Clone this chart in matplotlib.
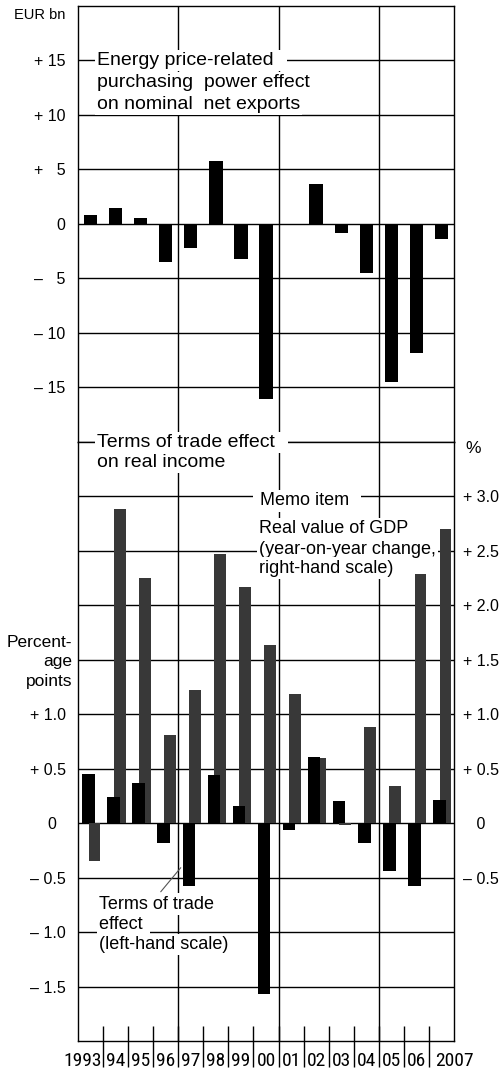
import numpy as np
import matplotlib.pyplot as plt
from matplotlib import transforms, font_manager

# data
years = ['1993', '94', '95', '96', '97', '98', '99', '00',
         '01', '02', '03', '04', '05', '06', '2007']
# EUR bn
energy_effect = [0.8, 1.5, 0.5, -3.5, -2.2, 5.8, -3.2, -16.1,
                 -0.15, 3.7, -0.8, -4.5, -14.5, -11.9, -1.4]
# percentage points (left-hand scale)
tot_effect = [0.45, 0.24, 0.37, -0.18, -0.58, 0.44, 0.16, -1.57,
              -0.06, 0.61, 0.20, -0.18, -0.44, -0.58, 0.21]
# % yoy (right-hand scale)
gdp_growth = [-0.35, 2.88, 2.25, 0.81, 1.22, 2.47, 2.17, 1.63,
              1.18, 0.60, -0.02, 0.88, 0.34, 2.29, 2.70]
group_starts = ['97', '01', '05']

top_ticks = [-15, -10, -5, 0, 5, 10, 15]
top_labels = ['\u2013 15', '\u2013 10', '\u2013   5', '0', '+   5', '+ 10', '+ 15']
bot_ticks = [-1.5, -1.0, -0.5, 0, 0.5, 1.0, 1.5, 2.0, 2.5, 3.0]
bot_labels_left = ['\u2013 1.5', '\u2013 1.0', '\u2013 0.5', '0  ', '+ 0.5', '+ 1.0', '', '', '', '']
right_ticks = [-0.5, 0, 0.5, 1.0, 1.5, 2.0, 2.5, 3.0]
right_labels = ['\u2013 0.5', '   0', '+ 0.5', '+ 1.0', '+ 1.5', '+ 2.0', '+ 2.5', '+ 3.0']

plt.rcParams['font.family'] = ['Liberation Sans', 'DejaVu Sans']
LW = 1.0
GRAY = '#383838'

# narrow font for the year labels, if one is installed
year_font = dict(family='Liberation Sans', fontsize=11.5)
for f in font_manager.fontManager.ttflist:
    if f.name in ('Liberation Sans Narrow', 'Arial Narrow', 'Roboto Condensed'):
        year_font = dict(family=f.name, fontsize=14)
        break
else:
    for f in font_manager.fontManager.ttflist:
        if f.name == 'DejaVu Sans' and f.stretch in ('condensed', 'semi-condensed'):
            year_font = dict(family='DejaVu Sans', fontstretch='condensed', fontsize=12.5)
            break

x = np.arange(len(years))
seps = [years.index(g) - 0.5 for g in group_starts]

fig = plt.figure(figsize=(5, 10.7), dpi=100)
ax_top = fig.add_axes([0.156, 0.5872, 0.752, 0.4072])
ax_bot = fig.add_axes([0.156, 0.0271, 0.752, 0.5601])

for ax in (ax_top, ax_bot):
    ax.set_xlim(-0.5, len(years) - 0.5)
    ax.set_axisbelow(True)
    ax.yaxis.grid(True, color='black', linewidth=LW)
    for s in seps:
        ax.axvline(s, color='black', linewidth=LW, zorder=0.5)
    for sp in ax.spines.values():
        sp.set_linewidth(LW)
    ax.tick_params(axis='y', length=0, labelsize=11.5, pad=9)


def boxed(ax, xx, yy, s, size=14):
    ax.text(xx, yy, s, fontsize=size, ha='left', va='center', zorder=4,
            clip_on=False,
            bbox=dict(facecolor='white', edgecolor='none', pad=1.5))


# ---- top panel: energy price-related purchasing power effect
ax_top.bar(x, energy_effect, width=0.53, color='black', zorder=2)
ax_top.set_ylim(-20, 20)
ax_top.set_yticks(top_ticks)
ax_top.set_yticklabels(top_labels)
ax_top.set_xticks([])
ax_top.text(-0.17, 0.979, 'EUR bn', transform=ax_top.transAxes, fontsize=10.5,
            ha='left', va='center')
boxed(ax_top, 0.26, 15.0, 'Energy price-related  ')
boxed(ax_top, 0.26, 12.95, 'purchasing  power effect')
boxed(ax_top, 0.26, 11.0, 'on nominal  net exports')

# ---- bottom panel: terms of trade effect and real GDP
w_tot, off_tot = 0.5, -0.08
w_gdp, off_gdp = 0.47, 0.16
ax_bot.bar(x + off_gdp, gdp_growth, width=w_gdp, color=GRAY, zorder=2)
ax_bot.bar(x + off_tot, tot_effect, width=w_tot, color='black', zorder=2.2)
ax_bot.set_ylim(-2.0, 3.5)
ax_bot.set_yticks(bot_ticks)
ax_bot.set_yticklabels(bot_labels_left)

ax_bot.set_xticks(x)
ax_bot.set_xticklabels(years, **year_font)
ax_bot.set_xticks(x[:-1] + 0.5, minor=True)
ax_bot.tick_params(axis='x', which='major', length=0, pad=8)
ax_bot.tick_params(axis='x', which='minor', direction='in', length=11, width=LW)
sec = ax_bot.secondary_xaxis('bottom')
sec.set_xticks(x[:-1] + 0.5)
sec.set_xticklabels([])
sec.tick_params(direction='out', length=19, width=LW)
sec.spines['bottom'].set_visible(False)

labs = ax_bot.get_xticklabels()
labs[0].set_horizontalalignment('right')
labs[0].set_transform(labs[0].get_transform() +
                      transforms.ScaledTranslation(11 / 100, 0, fig.dpi_scale_trans))
labs[-1].set_horizontalalignment('left')
labs[-1].set_transform(labs[-1].get_transform() +
                       transforms.ScaledTranslation(-6.5 / 100, 0, fig.dpi_scale_trans))

ax_r = ax_bot.twinx()
ax_r.set_ylim(ax_bot.get_ylim())
ax_r.set_yticks(right_ticks)
ax_r.set_yticklabels(right_labels)
ax_r.tick_params(axis='y', length=0, labelsize=11.5, pad=6.5)
for sp in ax_r.spines.values():
    sp.set_visible(False)

ax_bot.text(1.05, 0.989, '%', transform=ax_bot.transAxes, fontsize=12.5,
            ha='center', va='center')
ax_bot.text(-0.74, 1.48, 'Percent-\nage\npoints', fontsize=12.5, ha='right',
            va='center', linespacing=1.35, clip_on=False)

boxed(ax_bot, 0.26, 3.49, 'Terms of trade effect  ')
boxed(ax_bot, 0.26, 3.31, 'on real income')

boxed(ax_bot, 6.55, 2.957, ' Memo item  ', size=13)
boxed(ax_bot, 6.72, 2.70, 'Real value of GDP', size=13)
boxed(ax_bot, 6.72, 2.515, '(year-on-year change,', size=13)
boxed(ax_bot, 6.72, 2.34, 'right-hand scale)', size=13)

i97 = years.index('97')
ax_bot.annotate('', xy=(i97 + off_tot - w_tot / 2, -0.39), xytext=(2.73, -0.65),
                arrowprops=dict(arrowstyle='-', color='#555555', lw=0.8),
                zorder=3)
boxed(ax_bot, 0.34, -0.743, 'Terms of trade', size=13)
boxed(ax_bot, 0.34, -0.933, 'effect ', size=13)
boxed(ax_bot, 0.34, -1.115, '(left-hand scale)', size=13)

plt.savefig('out.png', dpi=100)
